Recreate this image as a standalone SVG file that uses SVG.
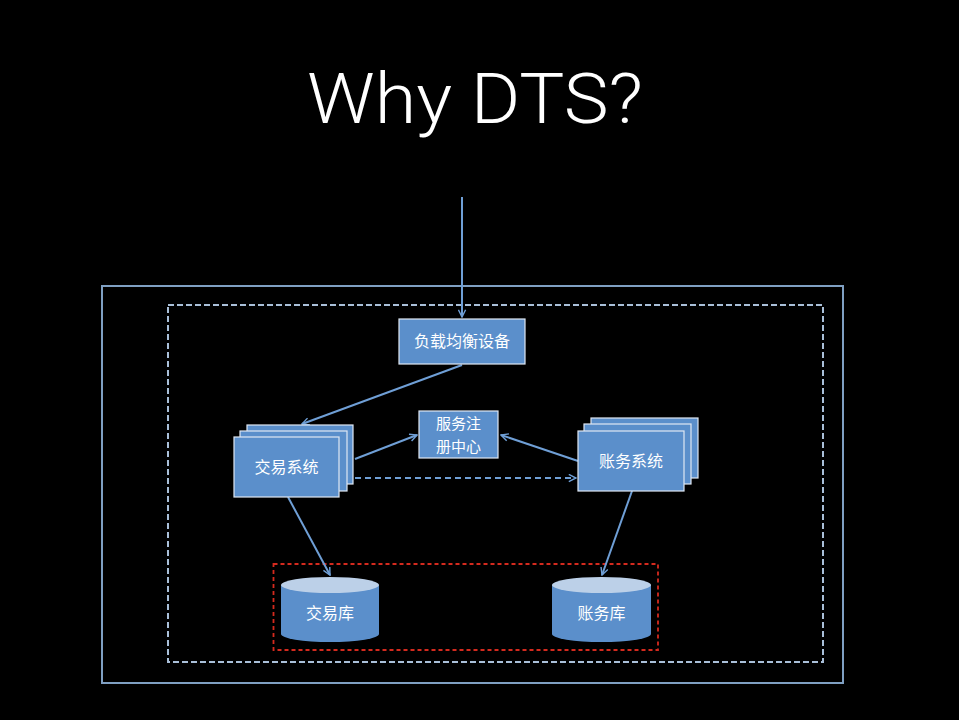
<svg xmlns="http://www.w3.org/2000/svg" width="959" height="720" viewBox="0 0 959 720">
<style>
.box{fill:#5b8fcb;stroke:#dfe8f3;stroke-width:1.2}
.lbl{font-family:"Noto Sans CJK SC","Noto Sans",sans-serif;font-size:16px;fill:#ffffff;text-anchor:middle}
.conn{stroke:#6f9fd6;stroke-width:2;fill:none}
.cyl{fill:#5b8fcb}
.cyltop{fill:#bcd0e8}
</style>
<defs>
<marker id="arr" viewBox="0 0 10 10" refX="9" refY="5" markerWidth="9" markerHeight="9" orient="auto" markerUnits="userSpaceOnUse">
<path d="M1,1 L9,5 L1,9" fill="none" stroke="#6f9fd6" stroke-width="1.6"/>
</marker>
</defs>
<rect width="959" height="720" fill="#000"/>
<text x="475" y="123" font-family="Roboto,Lato,sans-serif" font-weight="300" font-size="70" fill="#fff" text-anchor="middle" textLength="336" lengthAdjust="spacingAndGlyphs">Why DTS?</text>

<g id="frames">
<rect x="102" y="286" width="741" height="397" fill="none" stroke="#7f9fc2" stroke-width="2"/>
<rect x="168" y="305" width="655" height="357" fill="none" stroke="#a9bfd8" stroke-width="2" stroke-dasharray="6,3"/>
<rect x="273.5" y="564" width="384.5" height="86" fill="none" stroke="#d42a1e" stroke-width="1.8" stroke-dasharray="4,3"/>
</g>

<g id="connectors">
<line class="conn" x1="462" y1="197" x2="462" y2="317" marker-end="url(#arr)"/>
<line class="conn" x1="462" y1="365" x2="302" y2="424" marker-end="url(#arr)"/>
<line class="conn" x1="355" y1="459" x2="417" y2="435" marker-end="url(#arr)"/>
<line class="conn" x1="578" y1="461" x2="501" y2="435" marker-end="url(#arr)"/>
<line class="conn" x1="355" y1="478" x2="576" y2="478" stroke-dasharray="6,4" marker-end="url(#arr)"/>
<line class="conn" x1="288" y1="497" x2="330" y2="575" marker-end="url(#arr)"/>
<line class="conn" x1="632" y1="491" x2="602" y2="575" marker-end="url(#arr)"/>
</g>

<g id="lb">
<rect class="box" x="399" y="319" width="126" height="45"/>
<text class="lbl" x="462" y="347">负载均衡设备</text>
</g>

<g id="registry">
<rect class="box" x="419" y="411" width="79" height="47"/>
<text class="lbl" x="458.5" y="429" style="font-size:15px">服务注</text>
<text class="lbl" x="458.5" y="452" style="font-size:15px">册中心</text>
</g>

<g id="trade">
<rect class="box" x="247" y="425" width="106" height="59"/>
<rect class="box" x="240" y="431" width="107" height="60"/>
<rect class="box" x="234" y="437" width="105" height="60"/>
<text class="lbl" x="286.5" y="473">交易系统</text>
</g>

<g id="account">
<rect class="box" x="591" y="418" width="107" height="60"/>
<rect class="box" x="584" y="424" width="107" height="60"/>
<rect class="box" x="578" y="431" width="106" height="60"/>
<text class="lbl" x="631" y="467">账务系统</text>
</g>

<g id="tradedb">
<path class="cyl" d="M281,585 L281,634 A49,8 0 0 0 379,634 L379,585 Z"/>
<ellipse class="cyltop" cx="330" cy="585" rx="49" ry="8"/>
<text class="lbl" x="330" y="619">交易库</text>
</g>

<g id="accountdb">
<path class="cyl" d="M552,585 L552,634 A49.5,8 0 0 0 651,634 L651,585 Z"/>
<ellipse class="cyltop" cx="601.5" cy="585" rx="49.5" ry="8"/>
<text class="lbl" x="601.5" y="619">账务库</text>
</g>
</svg>
